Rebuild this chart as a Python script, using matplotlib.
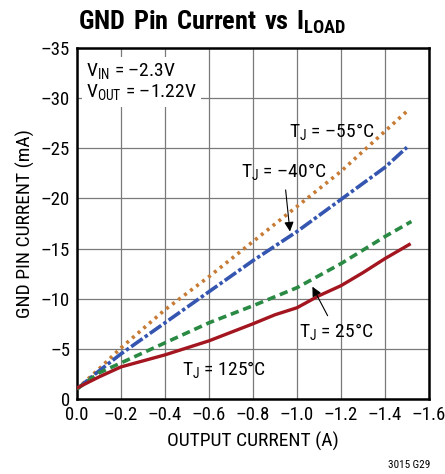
import matplotlib
matplotlib.use('Agg')
import matplotlib.pyplot as plt
from matplotlib import font_manager

# pick the narrowest installed sans family
names = {f.name for f in font_manager.fontManager.ttflist}
pref = ['Liberation Sans Narrow', 'DejaVu Sans Condensed', 'Roboto Condensed', 'Roboto', 'Liberation Sans']
font = next((n for n in pref if n in names), 'DejaVu Sans')

plt.rcParams['font.family'] = [font, 'DejaVu Sans']
plt.rcParams['mathtext.fontset'] = 'custom'
plt.rcParams['mathtext.rm'] = font
plt.rcParams['mathtext.bf'] = font + ':bold'
plt.rcParams['lines.scale_dashes'] = False

DASH = '\u2013'  # the sheet prints minus signs as en dashes

# Data (output current in A, GND pin current in mA)
x_125 = [0, -0.1, -0.2, -0.4, -0.6, -0.8, -0.9, -1.0, -1.1, -1.2, -1.3, -1.4, -1.51]
y_125 = [-1.1, -2.2, -3.2, -4.4, -5.8, -7.5, -8.4, -9.1, -10.3, -11.3, -12.6, -14.0, -15.4]

x_25 = [0, -0.1, -0.2, -0.4, -0.6, -0.8, -1.0, -1.2, -1.4, -1.52]
y_25 = [-1.0, -2.6, -3.6, -5.6, -7.6, -9.3, -11.1, -13.5, -16.2, -17.7]

x_m40 = [0, -0.1, -0.2, -0.4, -0.6, -0.8, -1.0, -1.2, -1.4, -1.5]
y_m40 = [-1.0, -2.8, -4.5, -7.6, -10.7, -13.8, -16.7, -19.9, -23.1, -25.1]

x_m55 = [0, -0.1, -0.2, -0.4, -0.6, -0.8, -1.0, -1.2, -1.4, -1.5]
y_m55 = [-1.0, -3.0, -5.1, -8.9, -12.2, -15.7, -19.2, -22.7, -26.7, -28.7]

x_ticks = [0.0, -0.2, -0.4, -0.6, -0.8, -1.0, -1.2, -1.4, -1.6]
y_ticks = [0, -5, -10, -15, -20, -25, -30, -35]

fig = plt.figure(figsize=(4.45, 4.74), dpi=100)
ax = fig.add_axes([77 / 445, 1 - 399 / 474, 352 / 445, 351 / 474])

ax.plot(x_m55, y_m55, color='#c77b35', lw=2.6, ls=(0, (2.2, 3.2)), dash_capstyle='butt', zorder=3)
ax.plot(x_m40, y_m40, color='#3455b0', lw=2.6, ls=(0, (10, 2, 2.5, 2)), zorder=3)
ax.plot(x_25, y_25, color='#2a8a44', lw=2.6, ls=(0, (6, 3.5)), zorder=3)
ax.plot(x_125, y_125, color='#a3161f', lw=2.4, zorder=3)

ax.set_xlim(0, -1.6)
ax.set_ylim(0, -35)
ax.set_xticks(x_ticks)
ax.set_yticks(y_ticks)
ax.set_xticklabels(['0.0' if v == 0 else f'{DASH}{abs(v):.1f}' for v in x_ticks])
ax.set_yticklabels(['0' if v == 0 else f'{DASH}{abs(v)}' for v in y_ticks])
ax.tick_params(length=0, labelsize=13.5, pad=5)
ax.grid(True, color='#7a7a7a', lw=0.9)
ax.set_axisbelow(True)
for s in ax.spines.values():
    s.set_linewidth(1.8)

ax.set_xlabel('OUTPUT CURRENT (A)', fontsize=14, labelpad=6)
ax.set_ylabel('GND PIN CURRENT (mA)', fontsize=14, labelpad=4)

# conditions box
ax.text(0.025, 0.962, f'V$_{{\\mathrm{{IN}}}}$ = {DASH}2.3V\nV$_{{\\mathrm{{OUT}}}}$ = {DASH}1.22V',
        transform=ax.transAxes, fontsize=14, va='top', ha='left', linespacing=1.05,
        bbox=dict(facecolor='white', edgecolor='none', pad=3), zorder=4)

ax.text(-1.16, -26.6, f'T$_{{\\mathrm{{J}}}}$ = {DASH}55\u00b0C', fontsize=14, ha='center', va='center')
ax.annotate(f'T$_{{\\mathrm{{J}}}}$ = {DASH}40\u00b0C', xy=(-0.968, -16.7), xytext=(-0.94, -22.6),
            fontsize=14, ha='center', va='center',
            arrowprops=dict(arrowstyle='-|>', color='black', lw=0.8, mutation_scale=14,
                            shrinkA=3, shrinkB=0))
ax.annotate('T$_{\\mathrm{J}}$ = 25\u00b0C', xy=(-1.07, -11.2), xytext=(-1.18, -6.6),
            fontsize=14, ha='center', va='center',
            arrowprops=dict(arrowstyle='-|>', color='black', lw=0.8, mutation_scale=14,
                            shrinkA=3, shrinkB=0))
ax.text(-0.67, -2.9, 'T$_{\\mathrm{J}}$ = 125\u00b0C', fontsize=14, ha='center', va='center')

fig.text(78 / 445, 1 - 22 / 474, '$\\mathbf{GND\\ Pin\\ Current\\ vs\\ I_{LOAD}}$',
         fontsize=19, ha='left', va='center')
fig.text(430 / 445, 1 - 465 / 474, '3015 G29', fontsize=8, ha='right', va='center')

fig.savefig('out.png', dpi=100)
